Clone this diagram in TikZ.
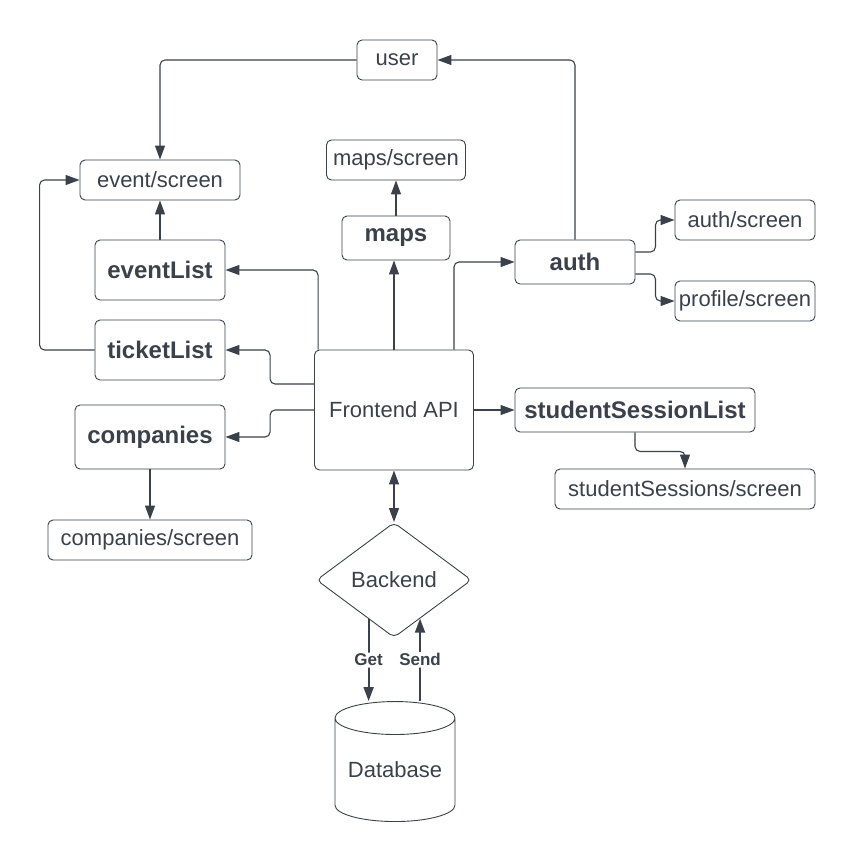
\documentclass[tikz,border=0pt]{standalone}
\usepackage{fontspec}
\setmainfont{Liberation Sans}
\usetikzlibrary{shapes.geometric,arrows.meta}
\definecolor{ink}{HTML}{3A414A}

\begin{document}
\begin{tikzpicture}[x=1pt,y=-1pt,>={Triangle[length=14pt,width=10pt]},
  box/.style={rectangle,draw=ink,line width=0.9pt,rounded corners=5pt,inner sep=0pt,text=ink,font=\fontsize{22}{26}\selectfont},
  bbox/.style={box,font=\fontsize{24}{28}\selectfont\bfseries},
  conn/.style={draw=ink,line width=1.1pt,rounded corners=5pt,->},
  lbl/.style={fill=white,text=ink,font=\fontsize{17}{20}\selectfont\bfseries,inner sep=1.5pt}]
\useasboundingbox (0,0) rectangle (856,860);
\node[box,minimum width=80pt,minimum height=40pt] (user) at (397,60) {user};
\node[box,minimum width=160pt,minimum height=40pt] (eventscreen) at (160,180) {event/screen};
\node[bbox,minimum width=130pt,minimum height=60pt] (eventList) at (160,270) {eventList};
\node[bbox,minimum width=130pt,minimum height=60pt] (ticketList) at (160,350) {ticketList};
\node[bbox,minimum width=150pt,minimum height=64pt] (companies) at (150,437) {companies};
\node[box,minimum width=204pt,minimum height=40pt] (companiesscreen) at (150,540) {companies/screen};
\node[box,minimum width=139pt,minimum height=40pt] (mapsscreen) at (396,160) {maps/screen};
\node[bbox,minimum width=108pt,minimum height=44pt] (maps) at (396,238) {maps};
\node[box,minimum width=159pt,minimum height=120pt] (frontend) at (394,410) {Frontend API};
\node[bbox,minimum width=120pt,minimum height=44pt] (auth) at (575,262) {auth};
\node[box,minimum width=140pt,minimum height=40pt] (authscreen) at (745,220) {auth/screen};
\node[box,minimum width=140pt,minimum height=40pt] (profilescreen) at (745,301) {profile/screen};
\node[bbox,minimum width=240pt,minimum height=44pt] (studentSessionList) at (635,410) {studentSessionList};
\node[box,minimum width=260pt,minimum height=40pt] (sessionsscreen) at (685,489) {studentSessions/screen};
\node[box,diamond,aspect=1.35,minimum width=155pt,minimum height=115pt] (backend) at (394,580) {Backend};
\node[box,cylinder,shape border rotate=90,aspect=0.35,rounded corners=0pt,minimum width=120pt,minimum height=120pt] (database) at (395,770) {Database};

% screens
\draw[conn] (auth.north) |- (user.east);
\draw[conn] (user.west) -| (eventscreen.north);
\draw[conn] (eventList.north) -- (eventscreen.south);
\draw[conn] (ticketList.west) -- ++(-55,0) |- (eventscreen.west);
\draw[conn] (companies.south) -- (companiesscreen.north);
\draw[conn] (maps.north) -- (mapsscreen.south);
\draw[conn] ([yshift=10pt]auth.east) -- ++(20,0) |- (authscreen.west);
\draw[conn] ([yshift=-12pt]auth.east) -- ++(20,0) |- (profilescreen.west);
\draw[conn] (studentSessionList.south) -- ++(0,19) -| (sessionsscreen.north);

% frontend
\draw[conn] ([xshift=4pt]frontend.north west) |- (eventList.east);
\draw[conn] ([yshift=26pt]frontend.west) -- ++(-44,0) |- (ticketList.east);
\draw[conn] (frontend.west) -- ++(-44,0) |- (companies.east);
\draw[conn] (frontend.north) -- (frontend.north |- maps.south);
\draw[conn] ([xshift=-20pt]frontend.north east) |- (auth.west);
\draw[conn] (frontend.east) -- (studentSessionList.west);
\draw[conn,<->] (frontend.south) -- (backend.north);

% backend
\draw[conn,line width=1.8pt] (backend.237) -- node[lbl] {Get} (backend.237 |- database.north);
\draw[conn,line width=1.8pt] (backend.304 |- database.north) -- node[lbl] {Send} (backend.304);
\end{tikzpicture}
\end{document}
